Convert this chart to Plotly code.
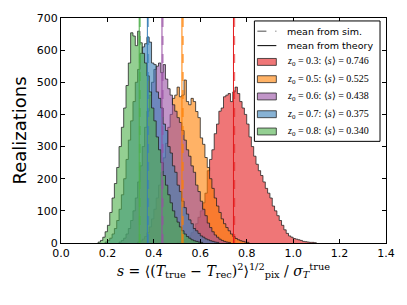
import plotly.graph_objects as go

BIN_W = 0.01

# histogram counts (bin width 0.01), each series with its first bin left edge
red_start = 0.50
red_counts = [2, 4, 6, 10, 15, 22, 32, 45, 60, 80, 100, 125, 155, 225, 260, 290, 340, 370, 410, 420,
              455, 460, 465, 440, 470, 485, 465, 440, 420, 400, 370, 330, 300, 270, 245, 225, 210, 190,
              170, 155, 140, 115, 100, 85, 70, 55, 41, 30, 22, 18, 14, 12, 10, 8, 5, 4, 3, 2, 2, 1]

orange_start = 0.33
orange_counts = [3, 6, 12, 20, 32, 50, 75, 105, 140, 180, 220, 265, 310, 360, 400, 450, 460, 485, 455,
                 460, 507, 440, 430, 450, 440, 409, 390, 327, 307, 266, 235, 200, 170, 140, 115, 95, 75,
                 60, 48, 38, 28, 20, 14, 10, 7, 5, 3, 2]

purple_start = 0.25
purple_counts = [3, 8, 15, 28, 45, 70, 100, 140, 190, 240, 300, 360, 410, 460, 500, 540, 550, 560, 530,
                 555, 510, 480, 460, 430, 410, 390, 375, 350, 320, 290, 270, 240, 220, 180, 160, 130,
                 105, 85, 62, 48, 35, 25, 18, 12, 8, 5, 3, 2]

blue_start = 0.19
blue_counts = [3, 8, 15, 28, 45, 70, 105, 150, 200, 260, 320, 380, 440, 500, 540, 590, 610, 620, 640,
               625, 560, 555, 470, 450, 420, 370, 350, 300, 280, 240, 220, 180, 160, 130, 110, 90, 72,
               60, 45, 38, 30, 22, 18, 13, 10, 7, 5, 3, 2]

green_start = 0.16
green_counts = [3, 8, 18, 35, 55, 95, 140, 185, 235, 300, 360, 420, 490, 560, 654, 644, 614, 659, 623,
                590, 560, 520, 470, 420, 380, 330, 290, 250, 210, 180, 150, 125, 100, 80, 65, 50, 38,
                28, 20, 15, 10, 7, 5, 3, 2]

z0_values = ["0.3", "0.5", "0.6", "0.7", "0.8"]
mean_sim = [0.746, 0.525, 0.438, 0.375, 0.340]
mean_theory = [0.743, 0.521, 0.435, 0.372, 0.337]
colors = ["#e41a1c", "#ff7f00", "#984ea3", "#377eb8", "#4daf4a"]

x_ticks = [0.0, 0.2, 0.4, 0.6, 0.8, 1.0, 1.2, 1.4]
y_ticks = [0, 100, 200, 300, 400, 500, 600, 700]

# figure geometry (pixels)
W, H = 407, 305
ML, MR, MT, MB = 61, 20, 15, 62
PW, PH = W - ML - MR, H - MT - MB


def rgba(hexc, a):
    h = hexc.lstrip("#")
    r, g, b = int(h[0:2], 16), int(h[2:4], 16), int(h[4:6], 16)
    return f"rgba({r},{g},{b},{a})"


def step_xy(start, counts):
    edges = [round(start + i * BIN_W, 4) for i in range(len(counts) + 1)]
    xs = [edges[0]] + edges
    ys = [0] + list(counts) + [0]
    return xs, ys


def px(xp):
    return (xp - ML) / PW


def py(yp):
    return (H - MB - yp) / PH


series = [
    (red_start, red_counts),
    (orange_start, orange_counts),
    (purple_start, purple_counts),
    (blue_start, blue_counts),
    (green_start, green_counts),
]

fig = go.Figure()

for i, (start, counts) in enumerate(series):
    xs, ys = step_xy(start, counts)
    fig.add_trace(go.Scatter(
        x=xs, y=ys, mode="lines", line_shape="hv",
        fill="tozeroy", fillcolor=rgba(colors[i], 0.6),
        line=dict(color="rgba(30,30,30,0.75)", width=1),
        showlegend=False, hoverinfo="skip",
    ))

for i in range(len(colors)):
    fig.add_vline(x=mean_theory[i], line=dict(color=colors[i], width=1), layer="above")
    fig.add_vline(x=mean_sim[i], line=dict(color=rgba(colors[i], 0.6), width=2, dash="dash"),
                  layer="above")

# ---- hand-drawn legend box (in plot-area paper coordinates) ----
shapes = []
annotations = []
shapes.append(dict(type="rect", xref="paper", yref="paper",
                   x0=px(255), x1=px(381), y0=py(140), y1=py(18),
                   fillcolor="white", line=dict(color="black", width=1), layer="above"))
sym_x0, sym_x1, text_x = px(258), px(277), px(286)
rows_y = [28.5, 43, 59.5, 77, 94.5, 112.5, 130]
shapes.append(dict(type="line", xref="paper", yref="paper",
                   x0=sym_x0, x1=sym_x1, y0=py(rows_y[0]), y1=py(rows_y[0]),
                   line=dict(color="#888888", width=1.5, dash="dash"), layer="above"))
shapes.append(dict(type="line", xref="paper", yref="paper",
                   x0=sym_x0, x1=sym_x1, y0=py(rows_y[1]), y1=py(rows_y[1]),
                   line=dict(color="black", width=1), layer="above"))
for txt, yy in [("mean from sim.", rows_y[0]), ("mean from theory", rows_y[1])]:
    annotations.append(dict(xref="paper", yref="paper", x=text_x, y=py(yy),
                            xanchor="left", yanchor="middle", showarrow=False,
                            text=txt, font=dict(family="DejaVu Sans", size=9.5, color="black")))
for i in range(len(colors)):
    yy = rows_y[2 + i]
    shapes.append(dict(type="rect", xref="paper", yref="paper",
                       x0=sym_x0, x1=sym_x1, y0=py(yy + 3.5), y1=py(yy - 3.5),
                       fillcolor=rgba(colors[i], 0.6),
                       line=dict(color="rgba(30,30,30,0.75)", width=1), layer="above"))
    label = f"<i>z</i><sub>0</sub> = {z0_values[i]}: ⟨<i>s</i>⟩ = {mean_sim[i]:.3f}"
    annotations.append(dict(xref="paper", yref="paper", x=text_x, y=py(yy),
                            xanchor="left", yanchor="middle", showarrow=False,
                            text=label,
                            font=dict(family="Liberation Serif", size=10, color="black")))

fig.update_layout(
    width=W, height=H,
    margin=dict(l=ML, r=MR, t=MT, b=MB),
    paper_bgcolor="white", plot_bgcolor="white",
    font=dict(family="DejaVu Sans", size=11, color="black"),
    showlegend=False,
    shapes=list(fig.layout.shapes) + shapes,
    annotations=annotations,
)

fig.update_xaxes(
    range=[0, 1.4], tickvals=x_ticks, ticktext=[f"{v:.1f}" for v in x_ticks],
    ticks="inside", ticklen=4, tickcolor="black",
    showline=True, linecolor="black", linewidth=1, mirror="ticks",
    showgrid=False, zeroline=False,
    tickfont=dict(size=11),
    title=dict(
        text=("<i>s</i> = ⟨(<i>T</i><sub>true</sub> − <i>T</i><sub>rec</sub>)<sup>2</sup>⟩"
              "<sup>1/2</sup><sub>pix</sub> / <i>σ</i><sub><i>T</i></sub><sup>true</sup>"),
        font=dict(family="DejaVu Serif", size=14), standoff=6,
    ),
)
fig.update_yaxes(
    range=[0, 700], tickvals=y_ticks,
    ticks="inside", ticklen=4, tickcolor="black",
    showline=True, linecolor="black", linewidth=1, mirror="ticks",
    showgrid=False, zeroline=False,
    tickfont=dict(size=11),
    title=dict(text="Realizations", font=dict(size=18), standoff=5),
)

fig.write_html("out.html", config={"displayModeBar": False},
               post_script="document.body.style.margin='0';")
